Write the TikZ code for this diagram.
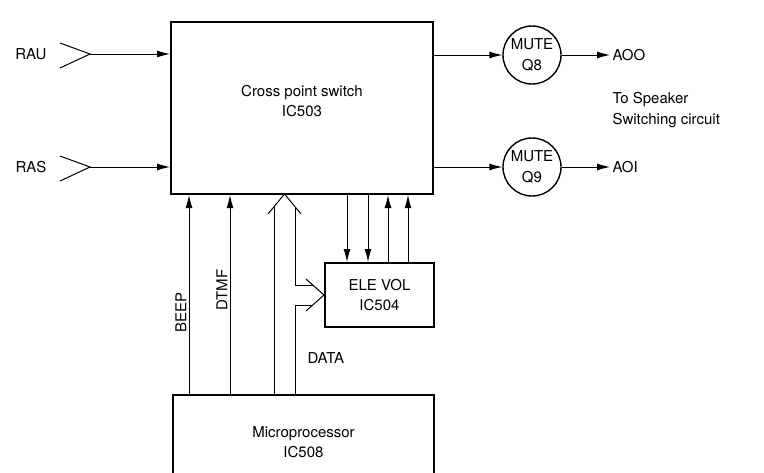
\documentclass[tikz,border=0pt]{standalone}
\usepackage{fontspec}
\setmainfont{TeX Gyre Heros}
\usetikzlibrary{positioning,arrows.meta}
\tikzset{%
  block/.style = {draw, line width=2pt, rectangle, align=center, inner sep=0pt},
  mute/.style  = {draw, line width=1.4pt, circle, minimum size=58pt, inner sep=0pt, align=center}, % Mute
  sig/.style   = {inner sep=2pt, align=left},  % Signal names
  txt/.style   = {inner sep=1pt, align=center}
}
\begin{document}
\begin{tikzpicture}[x=1pt, y=-1pt, line width=1pt, >={Latex[length=13pt,width=7pt]},
    font=\fontsize{15}{20.5}\selectfont]
  \clip (0,0) rectangle (764,472);

  \draw node at (302,108) [block, minimum width=262pt, minimum height=172pt] (cps) {};
  \draw node at ([yshift=7pt]cps.center) [txt] (cpsname) {Cross point switch\\IC503};
  \draw node at (379.5,295) [block, minimum width=109pt, minimum height=64pt] (vol) {ELE VOL\\IC504};
  \draw node at (303.5,442) [block, minimum width=261pt, minimum height=94pt] (mpu) {Microprocessor\\IC508};
  \draw node at (532,55) [mute] (q8) {MUTE\\Q8};
  \draw node at (532,167) [mute] (q9) {MUTE\\Q9};

  % inputs
  \draw node at (49,54) [sig, anchor=east] (rau) {RAU};
  \draw node at (49,167) [sig, anchor=east] (ras) {RAS};
  \coordinate (rauin) at (90,54);
  \coordinate (rasin) at (90,167);
  \draw ([shift={(-30,-11)}]rauin) -- (rauin) -- ([shift={(-30,14)}]rauin);
  \draw ([shift={(-30,-11)}]rasin) -- (rasin) -- ([shift={(-30,14)}]rasin);
  \draw[->] (rauin) -- (cps.west |- rauin);
  \draw[->] (rasin) -- (cps.west |- rasin);

  % outputs
  \draw node at (610,55) [sig, anchor=west] (aoo) {AOO};
  \draw node at (610,167) [sig, anchor=west] (aoi) {AOI};
  \draw node at (610,110) [sig, anchor=west] (spk) {To Speaker\\Switching circuit};
  \draw[->] (cps.east |- q8) -- (q8);
  \draw[->] (cps.east |- q9) -- (q9);
  \draw[->] (q8) -- (aoo);
  \draw[->] (q9) -- (aoi);

  % control lines
  \coordinate (beep) at ([xshift=17pt]mpu.north west);
  \coordinate (dtmf) at ([xshift=58pt]mpu.north west);
  \draw[->] (beep) -- (beep |- cps.south);
  \draw[->] (dtmf) -- (dtmf |- cps.south);
  \draw node at (181,312) [txt, rotate=90] (beeptxt) {BEEP};
  \draw node at (222,290) [txt, rotate=90] (dtmftxt) {DTMF};

  % data bus
  \coordinate (busa) at (274,395);
  \coordinate (busb) at (295,395);
  \coordinate (bustip) at (284.5,194);
  \draw (busa) -- (274,207);
  \draw (268,214) -- (bustip) -- (301,214);
  \draw (295,207) -- (295,285) -- (313,285);
  \draw (busb) -- (295,305) -- (313,305);
  \draw (306,279) -- (vol.west) -- (306,311);
  \draw node at (305,358) [sig, anchor=west] (datatxt) {DATA};

  % cross point <-> ele vol
  \coordinate (v1) at ([xshift=23pt]vol.north west);
  \coordinate (v2) at ([xshift=44pt]vol.north west);
  \coordinate (v3) at ([xshift=64pt]vol.north west);
  \coordinate (v4) at ([xshift=84pt]vol.north west);
  \draw[<-] (v1) -- (v1 |- cps.south);
  \draw[<-] (v2) -- (v2 |- cps.south);
  \draw[->] (v3) -- (v3 |- cps.south);
  \draw[->] (v4) -- (v4 |- cps.south);

\end{tikzpicture}
\end{document}
